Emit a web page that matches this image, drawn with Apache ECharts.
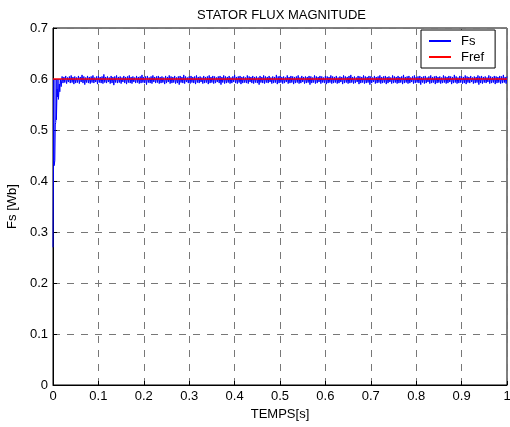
<!DOCTYPE html>
<html>
<head>
<meta charset="utf-8">
<script src="https://cdn.jsdelivr.net/npm/echarts@6/dist/echarts.min.js"></script>
<style>html,body{margin:0;padding:0;background:#fff}#c{width:510px;height:427px}</style>
</head>
<body>
<div id="c"></div>
<script>
// Start-up transient of Fs: [time s, flux Wb]
const fsTransient = [[0,0.27],[0.001,0.43],[0.002,0.60],[0.0025,0.43],[0.004,0.44],[0.005,0.51],[0.006,0.515],[0.007,0.60],[0.0075,0.52],[0.009,0.58],[0.010,0.565],[0.011,0.60],[0.012,0.56],[0.014,0.59],[0.015,0.575],[0.016,0.60],[0.018,0.585]];
// Steady-state samples of Fs, starting at t=0.02 s, one every 0.002 s
const fsStartT = 0.02, fsStepT = 0.002;
const fsSteady = [
0.605,0.592,0.604,0.593,0.606,0.591,0.603,0.594,0.605,0.592,
0.607,0.593,0.604,0.590,0.605,0.592,0.603,0.593,0.606,0.591,
0.604,0.594,0.608,0.592,0.605,0.589,0.603,0.593,0.606,0.592,
0.604,0.591,0.605,0.593,0.607,0.592,0.603,0.594,0.605,0.590,
0.606,0.593,0.604,0.592,0.605,0.591,0.609,0.593,0.604,0.592,
0.605,0.594,0.603,0.591,0.606,0.592,0.604,0.588,0.605,0.593,
0.607,0.592,0.604,0.593,0.605,0.591,0.603,0.594,0.606,0.592,
0.604,0.590,0.605,0.593,0.607,0.592,0.604,0.591,0.605,0.594,
0.603,0.592,0.606,0.593,0.604,0.591,0.605,0.592,0.608,0.593,
0.604,0.592,0.605,0.589,0.606,0.593,0.603,0.592,0.605,0.591,
0.607,0.594,0.604,0.592,0.605,0.593,0.606,0.591,0.604,0.592,
0.605,0.593,0.603,0.590,0.606,0.592,0.604,0.594,0.607,0.591,
0.605,0.592,0.604,0.593,0.606,0.591,0.603,0.592,0.605,0.589,
0.606,0.593,0.604,0.592,0.608,0.591,0.605,0.594,0.603,0.592,
0.605,0.591,0.606,0.593,0.604,0.592,0.605,0.590,0.607,0.593,
0.604,0.592,0.605,0.594,0.603,0.591,0.606,0.592,0.604,0.593,
0.605,0.590,0.607,0.592,0.604,0.593,0.606,0.591,0.605,0.592,
0.603,0.594,0.605,0.592,0.606,0.589,0.604,0.593,0.607,0.591,
0.605,0.592,0.604,0.593,0.606,0.591,0.603,0.592,0.605,0.594,
0.608,0.592,0.604,0.591,0.605,0.593,0.606,0.590,0.604,0.592,
0.605,0.593,0.603,0.592,0.607,0.591,0.605,0.594,0.604,0.592,
0.606,0.591,0.604,0.593,0.605,0.592,0.603,0.589,0.606,0.593,
0.604,0.592,0.607,0.591,0.605,0.593,0.604,0.592,0.606,0.594,
0.603,0.591,0.605,0.592,0.604,0.593,0.608,0.590,0.605,0.592,
0.606,0.593,0.604,0.591,0.605,0.592,0.603,0.594,0.607,0.591,
0.604,0.592,0.606,0.593,0.605,0.590,0.604,0.592,0.605,0.593,
0.607,0.591,0.603,0.592,0.606,0.594,0.604,0.591,0.605,0.592,
0.604,0.593,0.606,0.589,0.605,0.592,0.603,0.593,0.607,0.591,
0.605,0.592,0.604,0.594,0.606,0.591,0.605,0.593,0.603,0.592,
0.606,0.590,0.605,0.592,0.604,0.593,0.607,0.591,0.605,0.592,
0.604,0.593,0.606,0.591,0.603,0.592,0.605,0.594,0.604,0.590,
0.607,0.592,0.605,0.593,0.604,0.591,0.606,0.592,0.608,0.593,
0.604,0.591,0.605,0.592,0.603,0.594,0.606,0.590,0.605,0.592,
0.604,0.593,0.607,0.591,0.605,0.592,0.604,0.593,0.606,0.589,
0.605,0.592,0.603,0.594,0.606,0.591,0.604,0.592,0.605,0.593,
0.607,0.591,0.604,0.592,0.605,0.593,0.606,0.590,0.604,0.592,
0.605,0.594,0.603,0.591,0.607,0.592,0.605,0.593,0.604,0.591,
0.606,0.592,0.604,0.593,0.605,0.590,0.608,0.592,0.604,0.593,
0.605,0.591,0.606,0.592,0.603,0.594,0.605,0.591,0.607,0.592,
0.604,0.593,0.605,0.592,0.606,0.589,0.604,0.593,0.605,0.591,
0.606,0.592,0.603,0.594,0.605,0.591,0.607,0.592,0.604,0.593,
0.605,0.590,0.606,0.592,0.604,0.593,0.605,0.591,0.603,0.592,
0.607,0.593,0.605,0.591,0.604,0.592,0.606,0.594,0.605,0.590,
0.604,0.592,0.608,0.593,0.605,0.591,0.603,0.592,0.606,0.593,
0.605,0.591,0.604,0.592,0.607,0.590,0.605,0.593,0.604,0.592,
0.606,0.594,0.603,0.591,0.605,0.592,0.604,0.593,0.607,0.589,
0.605,0.592,0.606,0.591,0.604,0.593,0.605,0.592,0.603,0.594,
0.607,0.591,0.605,0.592,0.604,0.593,0.606,0.590,0.605,0.592,
0.604,0.593,0.606,0.591,0.605,0.592,0.608,0.593,0.604,0.591,
0.605
];
// Reference flux
const frefData = [[0,0.6],[1,0.6]];
const xTicks = {min:0, max:1, interval:0.1};
const yTicks = {min:0, max:0.7, interval:0.1};

const fsData = fsTransient.slice();
fsSteady.forEach((v,i)=>fsData.push([Math.round((fsStartT+i*fsStepT)*1e4)/1e4, v]));

const font = 'Liberation Sans, Arial, sans-serif';
const chart = echarts.init(document.getElementById('c'), null, {renderer:'canvas'});
chart.setOption({
  animation:false,
  backgroundColor:'#fff',
  textStyle:{fontFamily:font},
  title:{text:'STATOR FLUX MAGNITUDE', left:192, top:4,
    textStyle:{fontFamily:font, fontSize:13, fontWeight:'normal', color:'#000'}},
  legend:{orient:'vertical', left:421, top:30, padding:[3,11,3,8], itemGap:0,
    itemWidth:22, itemHeight:2, icon:'rect', borderColor:'#000', borderWidth:1, backgroundColor:'#fff',
    textStyle:{fontFamily:font, fontSize:13, color:'#000', lineHeight:16, padding:[0,0,0,5]},
    data:['Fs','Fref']},
  grid:{left:53, right:3, top:28, bottom:42, show:true, borderColor:'#000', borderWidth:1,
    outerBoundsMode:'none', containLabel:false},
  xAxis:{type:'value', min:xTicks.min, max:xTicks.max, interval:xTicks.interval,
    name:'TEMPS[s]', nameLocation:'middle', nameGap:20,
    nameTextStyle:{fontFamily:font, fontSize:13, color:'#000'},
    axisLine:{lineStyle:{color:'#000'}}, axisTick:{inside:true, length:4, lineStyle:{color:'#000'}},
    axisLabel:{fontFamily:font, fontSize:13, color:'#000', margin:5},
    splitLine:{show:true, lineStyle:{color:'#777', type:[7,7], width:1}}},
  yAxis:{type:'value', min:yTicks.min, max:yTicks.max, interval:yTicks.interval,
    name:'Fs [Wb]', nameLocation:'middle', nameGap:34,
    nameTextStyle:{fontFamily:font, fontSize:13, color:'#000'},
    axisLine:{show:true, lineStyle:{color:'#000'}}, axisTick:{show:true, inside:true, length:4, lineStyle:{color:'#000'}},
    axisLabel:{fontFamily:font, fontSize:13, color:'#000', margin:5},
    splitLine:{show:true, lineStyle:{color:'#777', type:[7,7], width:1}}},
  series:[
    {name:'Fs', type:'line', data:fsData, symbol:'none', lineStyle:{color:'#0000ff', width:1}, itemStyle:{color:'#0000ff'}, z:2},
    {name:'Fref', type:'line', data:frefData, symbol:'none', lineStyle:{color:'#ff0000', width:1.5}, itemStyle:{color:'#ff0000'}, z:3}
  ]
});
</script>
</body>
</html>
